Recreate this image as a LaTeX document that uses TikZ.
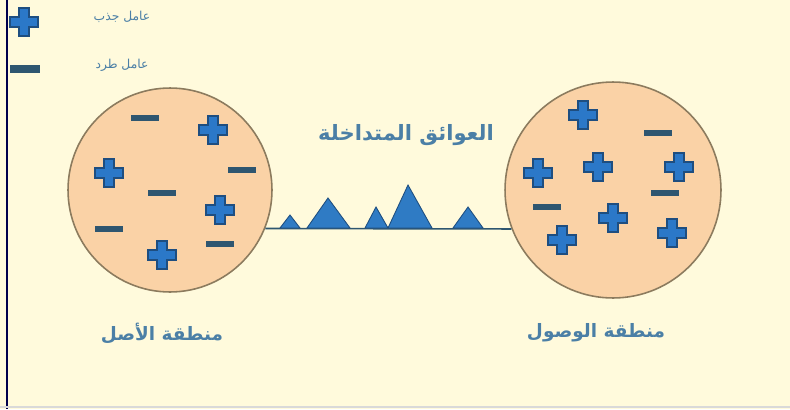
\documentclass[tikz,border=0pt]{standalone}
\usepackage{fontspec}
\newfontfamily\arabicfont[Script=Arabic]{DejaVu Sans}
\TeXXeTstate=1
\definecolor{paper}{HTML}{FFFADC}
\definecolor{zonefill}{HTML}{FAD2A6}
\definecolor{zoneline}{HTML}{8C7B5E}
\definecolor{plusfill}{HTML}{2B78C8}
\definecolor{plusedge}{HTML}{1E4E80}
\definecolor{minusfill}{HTML}{2E5670}
\definecolor{peakfill}{HTML}{2F7BC4}
\definecolor{textblue}{HTML}{4B7FA6}
\tikzset{
    zone/.style={circle, draw=zoneline, fill=zonefill, line width=0.9pt, inner sep=0pt},
    captxt/.style={text=textblue, font=\arabicfont\bfseries\fontsize{12}{14}\selectfont},
    zonetxt/.style={text=textblue, font=\arabicfont\bfseries\fontsize{10.5}{13}\selectfont},
    keytxt/.style={text=textblue, font=\arabicfont\fontsize{7}{9}\selectfont},
    pluspic/.pic={
        \filldraw[draw=plusedge, fill=plusfill, line width=0.6pt]
            (-5,-14) -- (5,-14) -- (5,-5) -- (14,-5) -- (14,5) -- (5,5) -- (5,14)
            -- (-5,14) -- (-5,5) -- (-14,5) -- (-14,-5) -- (-5,-5) -- cycle;
    },
    minuspic/.pic={
        \fill[minusfill] (-14,-3) rectangle (14,3);
    },
}
\begin{document}
\begin{tikzpicture}[x=0.02cm, y=-0.02cm]
    % background and frame
    \useasboundingbox (0,0) rectangle (790,409);
    \fill[paper] (0,0) rectangle (790,409);
    \draw[black!70!blue, line width=1.2pt] (7,0) -- (7,409);
    \draw[black!15, line width=1pt] (0,407) -- (790,407);

    % legend
    \pic at (24,22) {pluspic};
    \fill[minusfill] (10,65) rectangle (40,73);
    \node[keytxt] (keyplus) at (122,17) {\beginR عامل جذب\endR};
    \node[keytxt] (keyminus) at (122,65) {\beginR عامل طرد\endR};

    % the two zones
    \node[zone, minimum size=4.08cm] (orig) at (170,190) {};
    \node[zone, minimum size=4.32cm] (dest) at (613,190) {};

    % signs in the origin zone
    \foreach \p in {(213,130), (109,173), (220,210), (162,255)}
        \pic at \p {pluspic};
    \foreach \p in {(145,118), (242,170), (162,193), (109,229), (220,244)}
        \pic at \p {minuspic};

    % signs in the arrival zone
    \foreach \p in {(583,115), (538,173), (598,167), (679,167), (613,218), (562,240), (672,233)}
        \pic at \p {pluspic};
    \foreach \p in {(658,133), (665,193), (547,207)}
        \pic at \p {minuspic};

    % ground line and obstacles
    \draw[minusfill, line width=0.9pt] (orig.-22) -- (dest.201);
    \filldraw[draw=plusedge, fill=peakfill, line width=0.5pt]
        (280,228) -- (290,215) -- (300,228) -- cycle
        (307,228) -- (328,198) -- (350,228) -- cycle
        (365,228) -- (376,207) -- (388,228) -- cycle
        (388,228) -- (408,185) -- (432,228) -- cycle
        (453,228) -- (468,207) -- (483,228) -- cycle;

    % captions
    \node[captxt] (obst) at (406,135) {\beginR العوائق المتداخلة\endR};
    \node[zonetxt] (origtxt) at (162,333) {\beginR منطقة الأصل\endR};
    \node[zonetxt] (desttxt) at (596,333) {\beginR منطقة الوصول\endR};
\end{tikzpicture}
\end{document}
